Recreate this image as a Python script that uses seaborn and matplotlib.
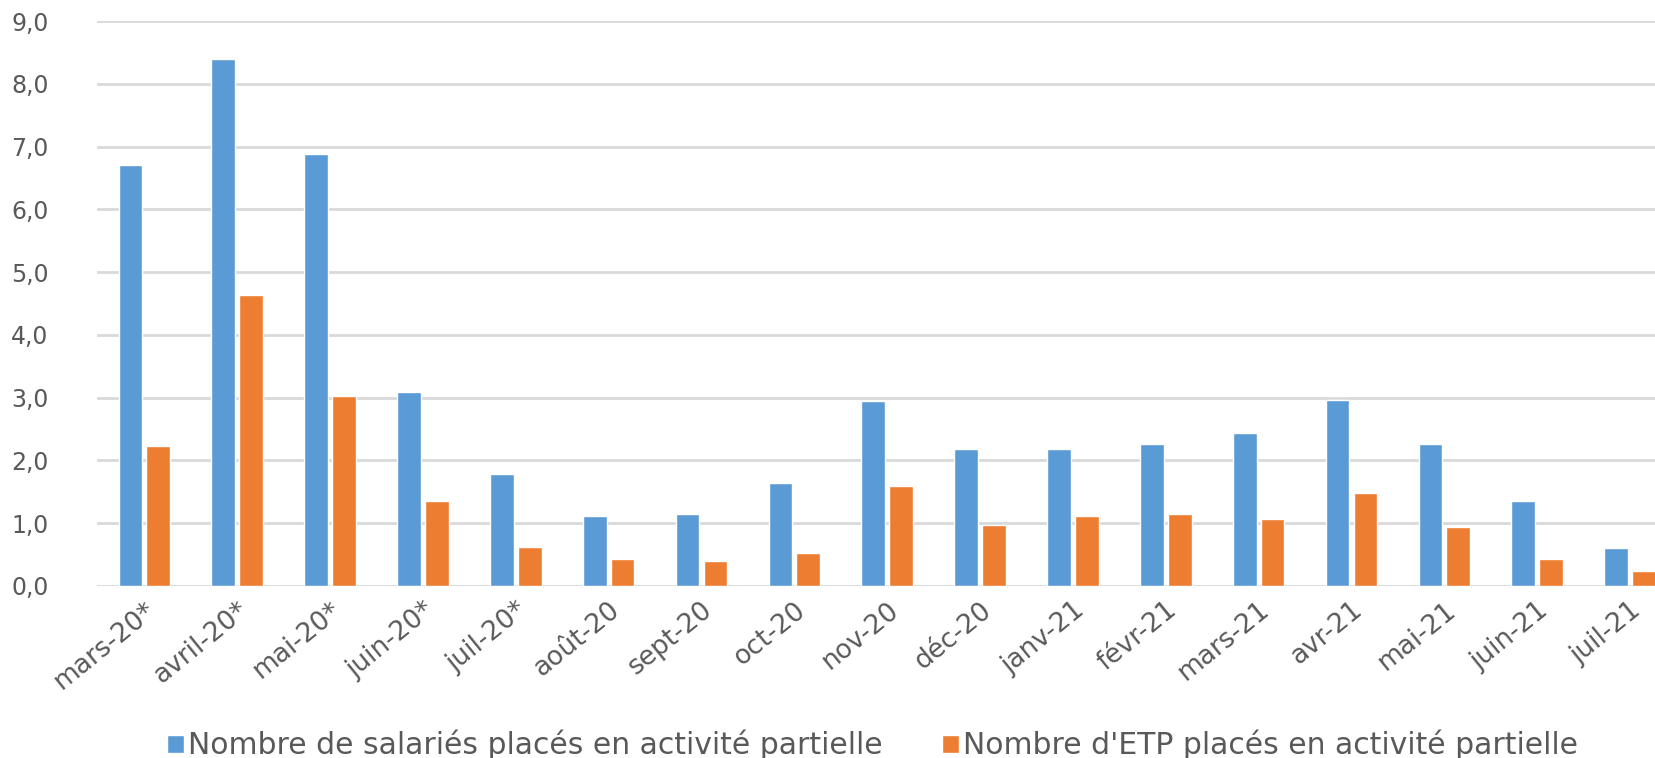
import matplotlib
matplotlib.use("Agg")
import matplotlib.pyplot as plt
import seaborn as sns
import pandas as pd
from matplotlib.ticker import FuncFormatter

categories = ["mars-20*", "avril-20*", "mai-20*", "juin-20*", "juil-20*", "août-20",
              "sept-20", "oct-20", "nov-20", "déc-20", "janv-21", "févr-21",
              "mars-21", "avr-21", "mai-21", "juin-21", "juil-21"]
salaries = [6.71, 8.39, 6.88, 3.09, 1.78, 1.11, 1.15, 1.64, 2.95, 2.18, 2.18, 2.27,
            2.43, 2.96, 2.27, 1.36, 0.60]
etp = [2.23, 4.63, 3.02, 1.35, 0.62, 0.43, 0.39, 0.53, 1.59, 0.97, 1.11, 1.15,
       1.07, 1.48, 0.94, 0.43, 0.24]
series_names = ["Nombre de salariés placés en activité partielle",
                "Nombre d'ETP placés en activité partielle"]
yticks = [0, 1, 2, 3, 4, 5, 6, 7, 8, 9]

df = pd.DataFrame({
    "mois": categories * 2,
    "valeur": salaries + etp,
    "serie": [series_names[0]] * len(categories) + [series_names[1]] * len(categories),
})

sns.set_theme(style="white")
plt.rcParams["font.family"] = ["DejaVu Sans"]

fig = plt.figure(figsize=(16.56, 7.58), dpi=100)
ax = fig.add_axes([0.0586, 0.227, 0.9414, 0.745])

palette = {series_names[0]: "#5B9BD5", series_names[1]: "#ED7D31"}
sns.barplot(data=df, x="mois", y="valeur", hue="serie", order=categories,
            hue_order=series_names, palette=palette, width=0.6, gap=0.15,
            saturation=1, errorbar=None, ax=ax, zorder=3, legend=True)

ax.set_ylim(0, 9)
ax.set_xlim(-0.51, 16.28)
ax.set_yticks(yticks)
ax.yaxis.set_major_formatter(FuncFormatter(lambda v, p: f"{v:.1f}".replace(".", ",")))
ax.grid(axis="y", color="#D9D9D9", linewidth=2, zorder=0)
ax.grid(axis="x", visible=False)
for s in ax.spines.values():
    s.set_visible(False)
ax.set_xlabel("")
ax.set_ylabel("")
ax.tick_params(axis="y", length=0, pad=35, labelsize=17, labelcolor="#595959")
ax.tick_params(axis="x", length=0, pad=8, labelsize=19, labelcolor="#595959")
plt.setp(ax.get_xticklabels(), rotation=39, ha="right", rotation_mode="anchor")

handles, labels = ax.get_legend_handles_labels()
ax.get_legend().remove()
fig.legend(handles, labels, loc="center", bbox_to_anchor=(0.527, 0.017),
           ncol=2, frameon=False, fontsize=21.5,
           labelcolor="#595959", handlelength=0.55, handleheight=0.55,
           handletextpad=0.15, columnspacing=2.0, borderaxespad=0, borderpad=0)

fig.savefig("out.png", dpi=100)
